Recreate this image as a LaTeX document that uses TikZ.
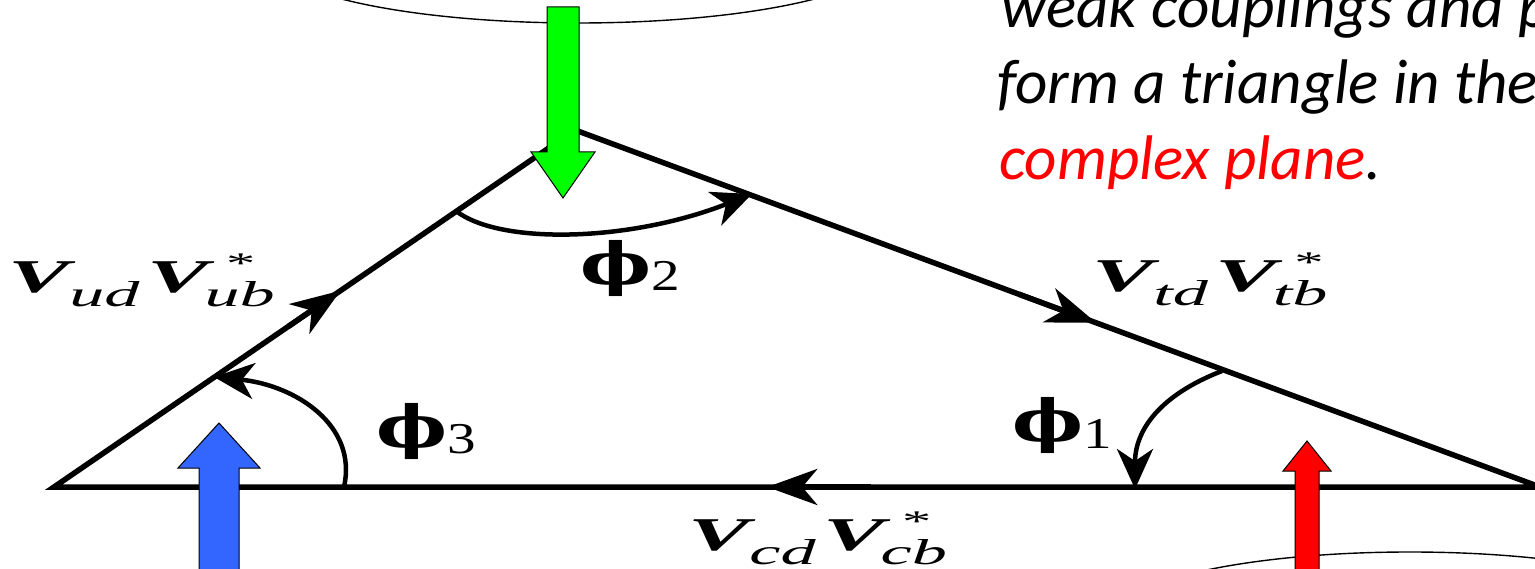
\documentclass[tikz,border=0pt]{standalone}
\usepackage{fontspec}
\usepackage{graphicx}
\usetikzlibrary{arrows.meta,calc}
\setmainfont{Liberation Serif}
\newfontfamily\calfont{Carlito}
\newfontfamily\phifont{DejaVu Serif}
\definecolor{myblue}{HTML}{3366FF}
\definecolor{mygreen}{HTML}{00FF00}
\definecolor{myred}{HTML}{FF0000}
\newcommand\Vpair[2]{%
  \scalebox{1.95}[1]{\fontsize{47}{47}\selectfont\bfseries\itshape V%
  \raisebox{-14pt}{\fontsize{36}{36}\selectfont\mdseries #1}\kern4pt%
  V\kern-2pt\rlap{\hspace{11pt}\raisebox{19pt}{\fontsize{30}{30}\selectfont\mdseries\upshape *}}%
  \raisebox{-14pt}{\fontsize{36}{36}\selectfont\mdseries #2}}}
\newcommand\PhiLab[1]{%
  \scalebox{1.3}[1]{\fontsize{58}{58}\selectfont\phifont\bfseries ϕ%
  \raisebox{-6pt}{\fontsize{44}{44}\selectfont\rmfamily\mdseries #1}}}
\tikzset{
  edge/.style={line width=5.5pt, line join=miter},
  edgetip/.style={line width=5.5pt, -{Stealth[length=50pt,width=36pt,inset=15pt]}},
  anglearc/.style={line width=4.5pt, -{Stealth[length=40pt,width=36pt,inset=12pt]}},
  bigarrow/.style={draw=black, line width=1pt, line join=miter},
  oval/.style={draw=black, line width=1.4pt},
  lab/.style={anchor=base west, inner sep=0pt},
  bodytext/.style={anchor=base west, inner sep=0pt, font=\calfont\itshape\fontsize{63}{63}\selectfont}
}
\begin{document}
\begin{tikzpicture}[x=1pt,y=-1pt]
\useasboundingbox (0,0) rectangle (1535,569);
\clip (0,0) rectangle (1535,569);
% ovals
\draw[oval] (578,-45) ellipse [x radius=310pt, y radius=68pt];
\draw[oval] (1410,620) ellipse [x radius=300pt, y radius=68pt];
% text
\node[bodytext] (t1) at (1001,28) {weak couplings and p};
\node[bodytext] (t2) at (997,104) {form a triangle in the};
\node[bodytext] (t3) at (999,180) {\textcolor{myred}{complex plane}.};
% triangle
\coordinate (A) at (54,487);
\coordinate (B) at (575,130);
\coordinate (C) at (1540,487);
\draw[edge] (A) -- (B) -- (C) -- cycle;
\draw[edgetip] ($(A)!0.45!(B)$) -- ($(A)!0.55!(B)$);
\draw[edgetip] ($(B)!0.46!(C)$) -- ($(B)!0.54!(C)$);
\draw[edgetip] ($(C)!0.45!(A)$) -- ($(C)!0.52!(A)$);
% angle arcs
\coordinate (p2a) at (456,211);
\coordinate (p2b) at (752,194);
\draw[anglearc] (p2a) .. controls (500,245) and (630,242) .. (p2b);
\coordinate (p3a) at (344,487);
\coordinate (p3b) at (214,377);
\draw[anglearc] (p3a) .. controls (358,425) and (295,385) .. (p3b);
\coordinate (p1a) at (1222,371);
\coordinate (p1b) at (1135,489);
\draw[anglearc] (p1a) .. controls (1160,395) and (1135,430) .. (p1b);
% labels
\node[lab] (lud) at (8,293) {\Vpair{ud}{ub}};
\node[lab] (ltd) at (1092,292) {\Vpair{td}{tb}};
\node[lab] (lcd) at (688,550) {\Vpair{cd}{cb}};
\node[lab] (phi2) at (580,285) {\PhiLab{2}};
\node[lab] (phi3) at (376,447) {\PhiLab{3}};
\node[lab] (phi1) at (1012,442) {\PhiLab{1}};
% coloured arrows
\draw[bigarrow, fill=mygreen] (547,7) -- (579,7) -- (579,152) -- (595,152) -- (563,198) -- (531,152) -- (547,152) -- cycle;
\draw[bigarrow, fill=myblue] (199,580) -- (199,468) -- (178,468) -- (219,423) -- (260,468) -- (239,468) -- (239,580) -- cycle;
\draw[bigarrow, fill=myred] (1295,580) -- (1295,471) -- (1283,471) -- (1307,441) -- (1331,471) -- (1319,471) -- (1319,580) -- cycle;
\end{tikzpicture}
\end{document}
